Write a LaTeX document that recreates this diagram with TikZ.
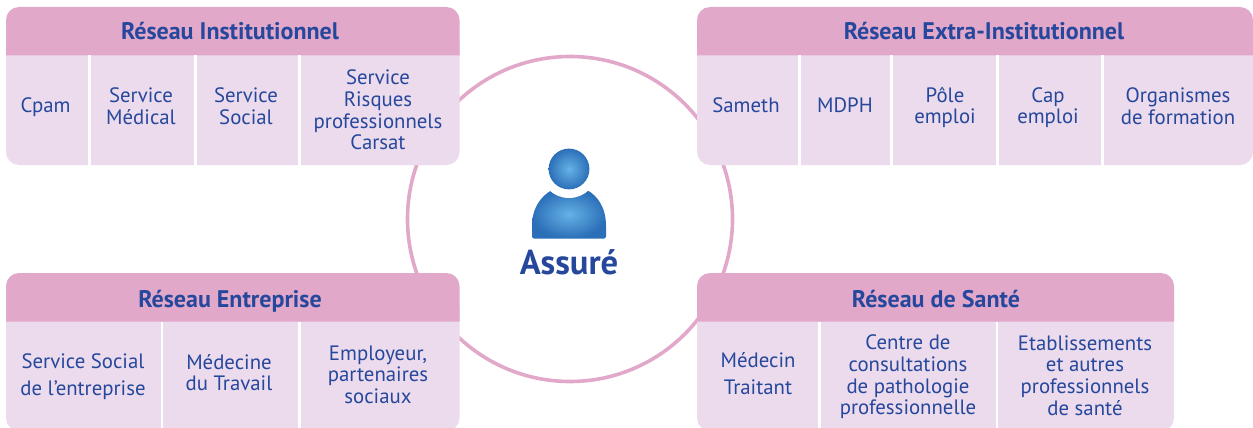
\documentclass[tikz,border=0pt]{standalone}
\usepackage{fontspec}
\setmainfont{PT Sans}
\usepackage{tikz}
\usetikzlibrary{positioning}
\definecolor{headpink}{HTML}{E2A8CA}
\definecolor{cellpink}{HTML}{ECDBEC}
\definecolor{inkblue}{HTML}{25479C}
\definecolor{iconlight}{HTML}{66B2E6}
\definecolor{icondark}{HTML}{2B6FB8}

\begin{document}
\begin{tikzpicture}[
    x=1pt, y=-1pt,
    panelbody/.style={fill=cellpink, rounded corners=13pt},
    panelhead/.style={fill=headpink},
    gap/.style={fill=white},
    title/.style={text=inkblue, inner sep=0pt, text height=17pt, text depth=5pt, font=\fontsize{24}{26}\selectfont\bfseries},
    cell/.style={text=inkblue, inner sep=0pt, align=center, font=\fontsize{20.8}{21.6}\selectfont},
    widecell/.style={text=inkblue, inner sep=0pt, align=center, font=\fontsize{20.8}{27}\selectfont}
]
\useasboundingbox (0,0) rectangle (1253,428);

% Ring behind the panels
\draw[headpink, line width=3.6pt] (570,219) circle (162.5);

% Person
\shade[inner color=iconlight, outer color=icondark] (532,236) -- (532,226) .. controls (532,208) and (541,196) .. (552,190) -- (587,190) .. controls (598,196) and (606,208) .. (606,226) -- (606,236) .. controls (606,238) and (605,238.5) .. (604,238.5) -- (534,238.5) .. controls (533,238.5) and (532,238) .. (532,236) -- cycle;
\fill[white] (569,169) circle (29);
\shade[inner color=iconlight, outer color=icondark] (569,169) circle (20.4);
\node[text=inkblue, inner sep=0pt, font=\fontsize{34.6}{36}\selectfont\bfseries] (assure) at (569,262) {Assuré};

% Reseau Institutionnel
\fill[panelbody] (6,30) rectangle (459.5,165);
\fill[panelhead] (6,55.5) [rounded corners=13pt] -- (6,7) -- (459.5,7) [sharp corners] -- (459.5,55.5) -- cycle;
\foreach \sx in {88,194.2,298} \fill[gap] (\sx,55.5) rectangle ++(2.8,110);
\node[title] (insttitle) at (230,34) {Réseau Institutionnel};
\node[cell] (cpam) at (45.5,107.5) {Cpam};
\node[cell] (medical) at (141,106.5) {Service\\Médical};
\node[cell] (social) at (246,106.5) {Service\\Social};
\node[cell] (risques) at (378,110) {Service\\Risques\\professionnels\\Carsat};

% Reseau Extra-Institutionnel
\fill[panelbody] (697,30) rectangle (1253,165);
\fill[panelhead] (697,55.5) [rounded corners=13pt] -- (697,7) -- (1253,7) [sharp corners] -- (1253,55.5) -- cycle;
\foreach \sx in {798,890.2,995.8,1101} \fill[gap] (\sx,55.5) rectangle ++(2.8,110);
\node[title] (extratitle) at (984,34) {Réseau Extra-Institutionnel};
\node[cell] (sameth) at (746,105.5) {Sameth};
\node[cell] (mdph) at (845,105) {MDPH};
\node[cell] (pole) at (945,107.5) {Pôle\\emploi};
\node[cell] (cap) at (1048,107.5) {Cap\\emploi};
\node[cell] (formation) at (1178,106) {Organismes\\de formation};

% Reseau Entreprise
\fill[panelbody] (6,296) rectangle (459.5,431);
\fill[panelhead] (6,321.5) [rounded corners=13pt] -- (6,273) -- (459.5,273) [sharp corners] -- (459.5,321.5) -- cycle;
\foreach \sx in {160.5,298} \fill[gap] (\sx,321.5) rectangle ++(2.8,110);
\node[title] (entrtitle) at (230,301) {Réseau Entreprise};
\node[widecell] (socialent) at (83,377) {Service Social\\de l’entreprise};
\node[cell] (travail) at (229,372.5) {Médecine\\du Travail};
\node[cell] (employeur) at (378,374.5) {Employeur,\\partenaires\\sociaux};

% Reseau de Sante
\fill[panelbody] (697,296) rectangle (1174,431);
\fill[panelhead] (697,321.5) [rounded corners=13pt] -- (697,273) -- (1174,273) [sharp corners] -- (1174,321.5) -- cycle;
\foreach \sx in {818.2,995.6} \fill[gap] (\sx,321.5) rectangle ++(2.8,110);
\node[title] (santetitle) at (936,301) {Réseau de Santé};
\node[widecell] (traitant) at (758,374) {Médecin\\Traitant};
\node[cell] (centre) at (908,377) {Centre de\\consultations\\de pathologie\\professionnelle};
\node[cell] (etablis) at (1085,375.5) {Etablissements\\et autres\\professionnels\\de santé};

\end{tikzpicture}
\end{document}
